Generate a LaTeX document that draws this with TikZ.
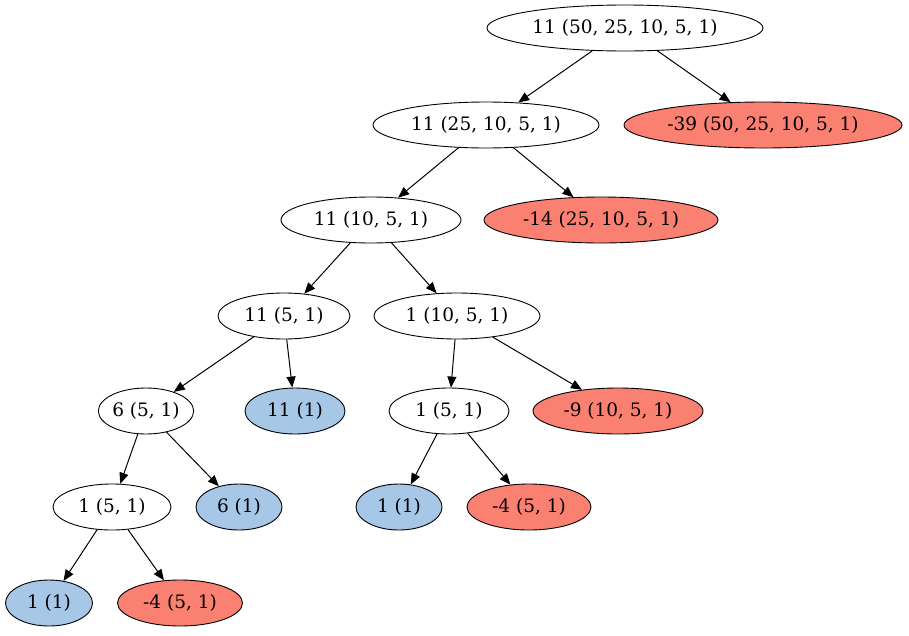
\documentclass[tikz,border=0pt]{standalone}
\usepackage{fontspec}
\setmainfont{DejaVu Serif}
\usetikzlibrary{shapes.geometric,arrows.meta}

\definecolor{winblue}{HTML}{A7C7E7}
\definecolor{losered}{HTML}{FA8072}

\begin{document}
\begin{tikzpicture}[
  x=1pt, y=-1pt,
  st/.style={draw, ellipse, inner sep=0pt, minimum height=46pt, line width=0.9pt,
             font=\fontsize{18.5}{22}\selectfont},
  win/.style={st, fill=winblue},
  lose/.style={st, fill=losered},
  edge/.style={-{Triangle[length=11pt,width=9pt]}, line width=1pt}
]
\useasboundingbox (0,0) rectangle (909,635);

% ── level 0 and 1 ───────────────────────────────────────────────────
\node[st, minimum width=276pt]   (r)    at (625,28)  {11 (50, 25, 10, 5, 1)};
\node[st, minimum width=226pt]   (a25)  at (486,125) {11 (25, 10, 5, 1)};
\node[lose, minimum width=278pt] (l39)  at (763,125) {-39 (50, 25, 10, 5, 1)};

% ── level 2 and 3 ───────────────────────────────────────────────────
\node[st, minimum width=180pt]   (a10)  at (371,220) {11 (10, 5, 1)};
\node[lose, minimum width=234pt] (l14)  at (601,220) {-14 (25, 10, 5, 1)};
\node[st, minimum width=132pt]   (a5)   at (284,316) {11 (5, 1)};
\node[st, minimum width=166pt]   (b10)  at (457,316) {1 (10, 5, 1)};

% ── level 4 ─────────────────────────────────────────────────────────
\node[st, minimum width=92pt]    (c5)   at (146,411) {6 (5, 1)};
\node[win, minimum width=100pt]  (w11)  at (295,411) {11 (1)};
\node[st, minimum width=120pt]   (b5)   at (449,411) {1 (5, 1)};
\node[lose, minimum width=170pt] (l9)   at (618,411) {-9 (10, 5, 1)};

% ── level 5 and 6 ───────────────────────────────────────────────────
\node[st, minimum width=118pt]   (d5)   at (112,507) {1 (5, 1)};
\node[win, minimum width=86pt]   (w6)   at (239,507) {6 (1)};
\node[win, minimum width=86pt]   (w1a)  at (399,507) {1 (1)};
\node[lose, minimum width=124pt] (l4a)  at (529,507) {-4 (5, 1)};
\node[win, minimum width=87pt]   (w1b)  at (49,603)  {1 (1)};
\node[lose, minimum width=125pt] (l4b)  at (180,603) {-4 (5, 1)};

% ── edges ───────────────────────────────────────────────────────────
\draw[edge] (r) -- (a25);
\draw[edge] (r) -- (l39);
\draw[edge] (a25) -- (a10);
\draw[edge] (a25) -- (l14);
\draw[edge] (a10) -- (a5);
\draw[edge] (a10) -- (b10);
\draw[edge] (a5) -- (c5);
\draw[edge] (a5) -- (w11);
\draw[edge] (b10) -- (b5);
\draw[edge] (b10) -- (l9);
\draw[edge] (c5) -- (d5);
\draw[edge] (c5) -- (w6);
\draw[edge] (b5) -- (w1a);
\draw[edge] (b5) -- (l4a);
\draw[edge] (d5) -- (w1b);
\draw[edge] (d5) -- (l4b);

\end{tikzpicture}
\end{document}
